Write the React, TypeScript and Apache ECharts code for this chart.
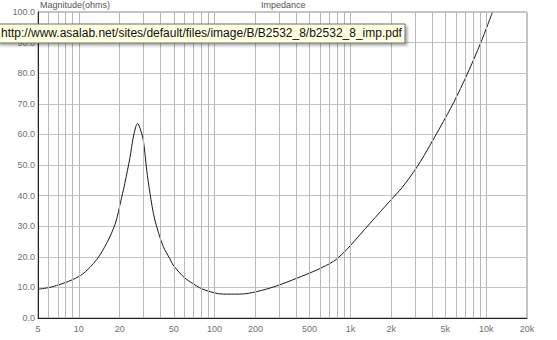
import React, { useEffect, useRef } from "react";
import * as echarts from "echarts";

const freqs = [5, 6.1, 7.65, 9.06, 10.7, 12.8, 14.3, 16.5, 17.8, 18.9, 20.2, 21.8, 23.8, 25.1, 26.3, 27.1, 28.2, 29.8, 31.6, 33.4, 36.3, 41.9, 46.9, 49.5, 58.8, 65.6, 82, 116, 153, 204, 287, 403, 566, 750, 890, 997, 1400, 1980, 2400, 3110, 3900, 5170, 5780, 7240, 9100, 11100];
const impedance = [9.4, 10.0, 11.3, 12.6, 14.4, 17.8, 20.6, 25.5, 28.8, 32.0, 37.5, 44.0, 52.5, 58.8, 62.6, 63.6, 62.0, 58.2, 48.4, 40.8, 32.0, 23.3, 19.3, 17.3, 13.5, 11.9, 9.4, 7.8, 7.8, 8.6, 10.5, 13.0, 15.7, 18.5, 21.3, 23.6, 31.0, 38.5, 42.6, 49.5, 56.8, 66.5, 70.5, 79.6, 89.8, 99.8];

const xTickValues = [5, 10, 20, 50, 100, 200, 500, 1000, 2000, 5000, 10000, 20000];
const xTickLabels = ["5", "10", "20", "50", "100", "200", "500", "1k", "2k", "5k", "10k", "20k"];
const xGridValues = [6, 7, 8, 9, 10, 20, 30, 40, 50, 60, 70, 80, 90, 100, 200, 300, 400, 500, 600, 700, 800, 900, 1000, 2000, 3000, 4000, 5000, 6000, 7000, 8000, 9000, 10000];

const yTitle = "Magnitude(ohms)";
const chartTitle = "Impedance";
const urlText = "http://www.asalab.net/sites/default/files/image/B/B2532_8/b2532_8_imp.pdf";

export default function App() {
  const ref = useRef<HTMLDivElement>(null);
  useEffect(() => {
    if (!ref.current) return;
    const chart = echarts.init(ref.current, undefined, { renderer: "svg" });
    const labelFont = { fontFamily: "Liberation Sans, Arial, sans-serif", fontSize: 9, color: "#707070" };
    chart.setOption({
      animation: false,
      backgroundColor: "#ffffff",
      grid: { left: 38, right: 30, top: 12, bottom: 22, show: true, borderColor: "#8a8a8a", borderWidth: 1, backgroundColor: "transparent" },
      xAxis: {
        type: "log",
        logBase: 10,
        min: 5,
        max: 20000,
        axisLine: { show: true, lineStyle: { color: "#222", width: 1 } },
        axisTick: { show: false },
        splitLine: { show: false },
        axisLabel: {
          ...labelFont,
          margin: 6,
          customValues: xTickValues,
          formatter: (v: number) => {
            const i = xTickValues.findIndex((t) => Math.abs(t - v) / t < 1e-6);
            return i >= 0 ? xTickLabels[i] : "";
          },
        },
      },
      yAxis: {
        type: "value",
        min: 0,
        max: 100,
        interval: 10,
        axisLine: { show: true, lineStyle: { color: "#222", width: 1 } },
        axisTick: { show: false },
        splitLine: { show: true, lineStyle: { color: "#c4c4c4", width: 1 } },
        axisLabel: { ...labelFont, margin: 3, formatter: (v: number) => v.toFixed(1) },
      },
      series: [
        {
          type: "line",
          data: freqs.map((f, i) => [f, impedance[i]]),
          showSymbol: false,
          smooth: 0.3,
          lineStyle: { color: "#1a1a1a", width: 1 },
          silent: true,
          z: 3,
          markLine: {
            silent: true,
            symbol: "none",
            label: { show: false },
            lineStyle: { color: "#b8b8b8", width: 1, type: "solid" },
            emphasis: { disabled: true },
            data: xGridValues.map((v) => ({ xAxis: v })),
          },
        },
      ],
      graphic: [
        { type: "text", left: 40, top: 0, style: { text: yTitle, font: "9px Liberation Sans, Arial, sans-serif", fill: "#555" } },
        { type: "text", left: 261, top: 0, style: { text: chartTitle, font: "9px Liberation Sans, Arial, sans-serif", fill: "#555" } },
        {
          type: "rect",
          z: 100,
          shape: { x: -2, y: 24, width: 407, height: 19 },
          style: { fill: "#ffffe1", stroke: "#6e6e6e", lineWidth: 1, shadowBlur: 3, shadowOffsetX: 2, shadowOffsetY: 2, shadowColor: "rgba(0,0,0,0.35)" },
        },
        {
          type: "text",
          z: 101,
          x: 1,
          y: 27,
          style: { text: urlText, font: "12px Liberation Sans, Arial, sans-serif", fill: "#111" },
        },
      ],
    });
    return () => chart.dispose();
  }, []);
  return <div ref={ref} style={{ width: 557, height: 340, position: "fixed", left: 0, top: 0 }} />;
}
